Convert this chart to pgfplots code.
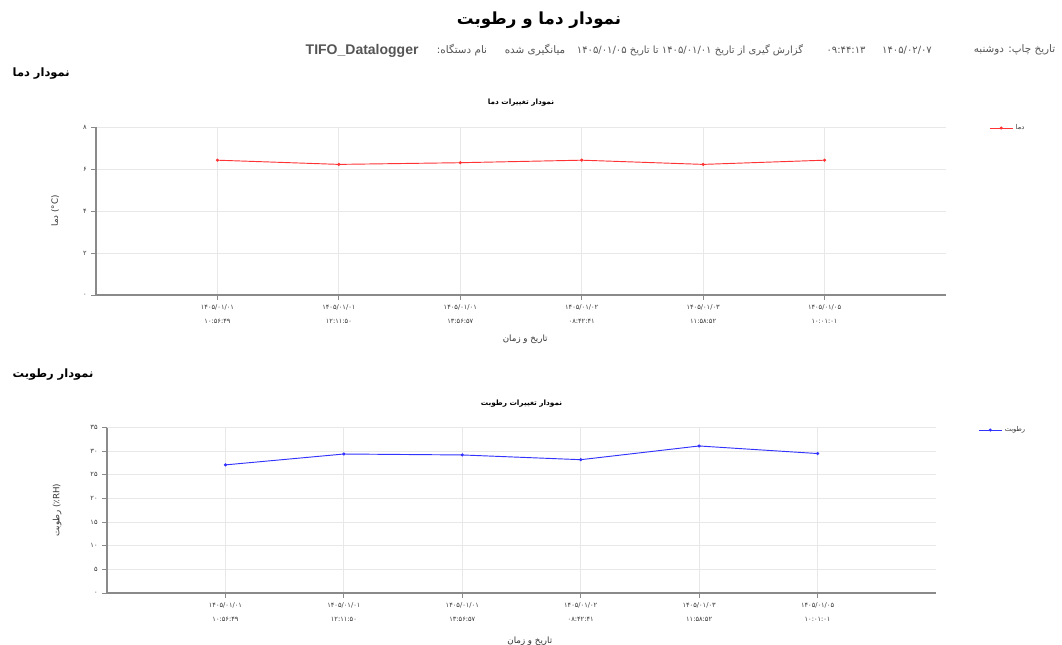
\documentclass[border=0pt]{standalone}
\usepackage{pgfplots}
\pgfplotsset{compat=1.18}
\usepackage{fontspec}
\setmainfont{Liberation Sans}
\newfontfamily\arabicfont[Script=Arabic]{DejaVu Sans}
\TeXXeTstate=1
\definecolor{gridc}{HTML}{E8E8E8}
\definecolor{axc}{HTML}{8A8A8A}
\definecolor{subc}{HTML}{555555}
\definecolor{tickc}{HTML}{333333}

\pgfplotsset{
  myax/.style={
    scale only axis,
    anchor=south west,
    xmin=-1, xmax=6,
    axis x line*=bottom, axis y line*=left,
    axis line style={-, draw=axc, line width=0.9pt},
    grid=major,
    major grid style={draw=gridc, line width=0.6pt},
    tick style={draw=axc, line width=0.6pt},
    tick align=outside,
    major tick length=3.5pt,
    xtick={0,1,2,3,4,5},
    xticklabels={{۱۴۰۵/۰۱/۰۱\\۱۰:۵۶:۴۹},{۱۴۰۵/۰۱/۰۱\\۱۲:۱۱:۵۰},{۱۴۰۵/۰۱/۰۱\\۱۳:۵۶:۵۷},{۱۴۰۵/۰۱/۰۲\\۰۸:۴۲:۴۱},{۱۴۰۵/۰۱/۰۳\\۱۱:۵۸:۵۲},{۱۴۰۵/۰۱/۰۵\\۱۰:۰۱:۰۱}},
    xticklabel style={align=center, text=tickc, font=\arabicfont\fontsize{5pt}{10.5pt}\selectfont},
    yticklabel style={text=tickc, font=\arabicfont\fontsize{5pt}{6pt}\selectfont},
    title style={font=\arabicfont\bfseries\fontsize{5.5pt}{7pt}\selectfont, anchor=center},
    label style={font=\arabicfont\fontsize{6.5pt}{8pt}\selectfont, text=tickc},
    legend style={draw=none, fill=none, font=\arabicfont\fontsize{5pt}{6pt}\selectfont, text=tickc, anchor=west},
  }
}

\begin{document}
\begin{tikzpicture}[x=0.75pt,y=-0.75pt]
\path[use as bounding box] (0,0) rectangle (1062,645);

% main title
\node[font=\arabicfont\bfseries\fontsize{12.5pt}{15pt}\selectfont] at (539,20) {\beginR نمودار دما و رطوبت\endR};

% subtitle pieces
\node[anchor=west, font=\bfseries\fontsize{10.5pt}{12pt}\selectfont, text=subc] at (301,51) {TIFO\_Datalogger};
\node[font=\arabicfont\fontsize{7.8pt}{9pt}\selectfont, text=subc] at (462,50) {\beginR نام دستگاه:\endR};
\node[font=\arabicfont\fontsize{7.8pt}{9pt}\selectfont, text=subc] at (535,50) {\beginR میانگیری شده\endR};
\node[font=\arabicfont\fontsize{7.5pt}{9pt}\selectfont, text=subc] at (690,50) {\beginR گزارش گیری از تاریخ \beginL۱۴۰۵/۰۱/۰۱\endL{} تا تاریخ \beginL۱۴۰۵/۰۱/۰۵\endL{}\endR};
\node[font=\arabicfont\fontsize{7.5pt}{9pt}\selectfont, text=subc] at (846,50) {۰۹:۴۴:۱۳};
\node[font=\arabicfont\fontsize{7.5pt}{9pt}\selectfont, text=subc] at (907,50) {۱۴۰۵/۰۲/۰۷};
\node[anchor=east, font=\arabicfont\fontsize{7.8pt}{9pt}\selectfont, text=subc] at (1060,50) {\beginR تاریخ چاپ: دوشنبه\endR};

% section headings
\node[anchor=west, font=\arabicfont\bfseries\fontsize{8.6pt}{11pt}\selectfont] at (8,74) {\beginR نمودار دما\endR};
\node[anchor=west, font=\arabicfont\bfseries\fontsize{8.6pt}{11pt}\selectfont] at (8,375) {\beginR نمودار رطوبت\endR};

% temperature chart
\begin{axis}[myax,
  at={(72pt,-221.25pt)},
  width=637.5pt, height=126pt,
  ymin=0, ymax=8,
  ytick={0,2,4,6,8},
  yticklabels={۰,۲,۴,۶,۸},
  title={\beginR نمودار تغییرات دما\endR},
  title style={at={(axis description cs:0.5,1.10)}},
  xlabel={\beginR تاریخ و زمان\endR},
  xlabel style={at={(axis description cs:0.505,-0.262)}, anchor=center},
  ylabel={دما (°C)},
  ylabel style={at={(axis description cs:-0.048,0.5)}, anchor=center, rotate=0},
  legend style={at={(axis description cs:1.046,0.994)}},
]
\addplot[color=red!80, line width=0.7pt, mark=*, mark size=0.8pt] coordinates {
  (0,6.42) (1,6.22) (2,6.30) (3,6.42) (4,6.22) (5,6.42)
};
\addlegendentry{دما}
\end{axis}

% humidity chart
\begin{axis}[myax,
  at={(80.25pt,-444.75pt)},
  width=621.75pt, height=124.1pt,
  ymin=0, ymax=35,
  ytick={0,5,10,15,20,25,30,35},
  yticklabels={۰,۵,۱۰,۱۵,۲۰,۲۵,۳۰,۳۵},
  title={\beginR نمودار تغییرات رطوبت\endR},
  title style={at={(axis description cs:0.5,1.094)}},
  xlabel={\beginR تاریخ و زمان\endR},
  xlabel style={at={(axis description cs:0.51,-0.290)}, anchor=center},
  ylabel={رطوبت (٪RH)},
  ylabel style={at={(axis description cs:-0.060,0.5)}, anchor=center, rotate=0},
  legend style={at={(axis description cs:1.046,0.985)}},
]
\addplot[color=blue!80, line width=0.7pt, mark=*, mark size=0.8pt] coordinates {
  (0,27.1) (1,29.4) (2,29.2) (3,28.2) (4,31.1) (5,29.5)
};
\addlegendentry{رطوبت}
\end{axis}
\end{tikzpicture}
\end{document}
